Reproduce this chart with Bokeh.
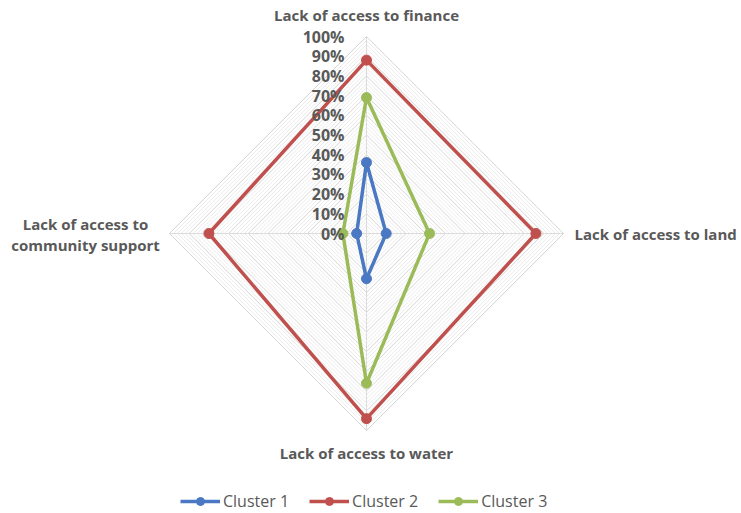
import numpy as np
from bokeh.plotting import figure
from bokeh.models import Range1d, Legend, LegendItem
from bokeh.core.properties import value
from bokeh.embed import file_html
from bokeh.resources import INLINE

categories = ["Lack of access to finance", "Lack of access to land",
              "Lack of access to water", "Lack of access to community support"]
series_names = ["Cluster 1", "Cluster 2", "Cluster 3"]
cluster1 = [36, 10, 23, 5]
cluster2 = [88, 86, 94, 80]
cluster3 = [69, 32, 76, 12]
tick_values = [0, 10, 20, 30, 40, 50, 60, 70, 80, 90, 100]
tick_labels = ["0%", "10%", "20%", "30%", "40%", "50%", "60%", "70%", "80%", "90%", "100%"]

colors = ["#4A78C2", "#C0504D", "#9BBB59"]
W, H = 741, 513
cx_px, cy_px = 366, 233      # centre in screen pixels
s = 1.97                     # pixels per percent
FONT = "Open Sans"
TXT = "#595959"

p = figure(width=W, height=H, output_backend="svg", toolbar_location=None,
           min_border=0, x_axis_type=None, y_axis_type=None)
p.x_range = Range1d(-cx_px / s, (W - cx_px) / s)
p.y_range = Range1d(-(H - cy_px) / s, cy_px / s)
p.xgrid.visible = False
p.ygrid.visible = False
p.outline_line_color = None

angles = np.pi / 2 - np.arange(len(categories)) * 2 * np.pi / len(categories)
ca, sa = np.cos(angles), np.sin(angles)

# grid diamonds
minor = [v for v in range(2, 101, 2) if v % 10 != 0]
p.multi_line([list(np.append(ca * v, ca[0] * v)) for v in minor],
             [list(np.append(sa * v, sa[0] * v)) for v in minor],
             line_color="#e6e6e6", line_width=0.8)
major = [v for v in tick_values if v > 0]
p.multi_line([list(np.append(ca * v, ca[0] * v)) for v in major],
             [list(np.append(sa * v, sa[0] * v)) for v in major],
             line_color="#d4d4d4", line_width=1)
# spokes
p.multi_line([[0, c * 100] for c in ca], [[0, t * 100] for t in sa],
             line_color="#dcdcdc", line_width=1)

items = []
for name, vals, col in zip(series_names, [cluster1, cluster2, cluster3], colors):
    v = np.array(vals, dtype=float)
    xs = list(np.append(ca * v, ca[0] * v[0]))
    ys = list(np.append(sa * v, sa[0] * v[0]))
    ln = p.line(xs, ys, line_color=col, line_width=3.5, line_join="round")
    sc = p.scatter(list(ca * v), list(sa * v), size=10, fill_color=col, line_color=col)
    items.append(LegendItem(label=name, renderers=[ln, sc]))

# tick labels
p.text(x=[0] * len(tick_values), y=tick_values, text=tick_labels,
       x_offset=-22, text_align="right", text_baseline="middle",
       text_font=value(FONT), text_font_size="16px", text_font_style="bold",
       text_color=TXT)

# category labels
p.text(x=[0], y=[100], text=[categories[0]], y_offset=-22, text_align="center",
       text_baseline="middle", text_font=value(FONT), text_font_size="15px",
       text_font_style="bold", text_color=TXT)
p.text(x=[100], y=[0], text=[categories[1]], x_offset=11, text_align="left",
       text_baseline="middle", text_font=value(FONT), text_font_size="15px",
       text_font_style="bold", text_color=TXT)
p.text(x=[0], y=[-100], text=[categories[2]], y_offset=22, text_align="center",
       text_baseline="middle", text_font=value(FONT), text_font_size="15px",
       text_font_style="bold", text_color=TXT)
p.text(x=[-100, -100], y=[0, 0], text=["Lack of access to", "community support"],
       x_offset=-84, y_offset=[-10, 11], text_align="center",
       text_baseline="middle", text_font=value(FONT), text_font_size="15px",
       text_font_style="bold", text_color=TXT)

legend = Legend(items=items, orientation="horizontal", location=(180, 1),
                glyph_width=40, glyph_height=20, label_height=20,
                label_standoff=3, spacing=20, padding=0, margin=0,
                border_line_color=None, background_fill_alpha=0,
                label_text_font=FONT, label_text_font_size="16px",
                label_text_color=TXT)
p.add_layout(legend, "center")

open("out.html", "w").write(file_html(p, INLINE))
